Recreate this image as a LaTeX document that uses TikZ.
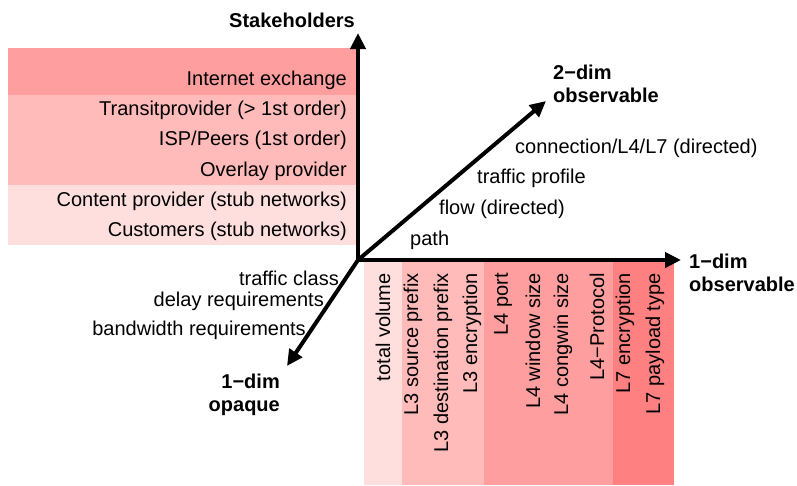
\documentclass[tikz,border=0pt]{standalone}
\usepackage{fontspec}
\setmainfont{Liberation Sans}
\usetikzlibrary{arrows.meta}
\definecolor{bandA}{RGB}{255,222,222}
\definecolor{bandB}{RGB}{255,186,186}
\definecolor{bandC}{RGB}{255,158,158}
\definecolor{bandD}{RGB}{255,128,128}
\begin{document}
\begin{tikzpicture}[x=1pt,y=-1pt,
  every node/.style={inner sep=0pt, font=\fontsize{20}{23}\selectfont},
  axis/.style={line width=4pt, -{Triangle[length=16pt,width=15pt]}},
  axlabel/.style={font=\fontsize{20}{23}\selectfont\bfseries},
  item/.style={anchor=east},
  ditem/.style={anchor=west},
  colitem/.style={rotate=90, anchor=east}]
\useasboundingbox (0,0) rectangle (797,485);

% stakeholder bands
\fill[bandC] (8,48) rectangle (356,95);
\fill[bandB] (8,95) rectangle (356,185);
\fill[bandA] (8,185) rectangle (356,245);

% observable columns
\fill[bandA] (364,262) rectangle (402,485);
\fill[bandB] (402,262) rectangle (484,485);
\fill[bandC] (484,262) rectangle (613,485);
\fill[bandD] (613,262) rectangle (674,485);

% axes
\coordinate (O) at (358,260);
\coordinate (Ob) at (358,262);
\coordinate (up) at (358,33);
\coordinate (right) at (681,260);
\coordinate (ne) at (546,101);
\coordinate (sw) at (287,366);
\draw[axis] (Ob) -- (up);
\draw[axis] (O) -- (right);
\draw[axis] (O) -- (ne);
\draw[axis] (O) -- (sw);

% axis titles
\node[axlabel] (tStake) at (292,20) {Stakeholders};
\node[axlabel, align=left, anchor=west] (t2dim) at (553,84) {2−dim\\observable};
\node[axlabel, align=left, anchor=west] (t1obs) at (689,273) {1−dim\\observable};
\node[axlabel, align=right, anchor=east] (t1opq) at (280,395) {1−dim\\opaque};

% stakeholders
\node[item] (s1) at (347,80) {Internet exchange};
\node[item] (s2) at (347,110) {Transitprovider (> 1st order)};
\node[item] (s3) at (347,140) {ISP/Peers (1st order)};
\node[item] (s4) at (347,171) {Overlay provider};
\node[item] (s5) at (347,201) {Content provider (stub networks)};
\node[item] (s6) at (347,231) {Customers (stub networks)};

% 2-dim observables
\node[ditem] (d1) at (410,240) {path};
\node[ditem] (d2) at (439,209) {flow (directed)};
\node[ditem] (d3) at (477,178) {traffic profile};
\node[ditem] (d4) at (515,148) {connection/L4/L7 (directed)};

% opaque
\node[item] (o1) at (339,278) {traffic class};
\node[item] (o2) at (324,301) {delay requirements};
\node[item] (o3) at (306,330) {bandwidth requirements};

% 1-dim observables
\node[colitem] (c1) at (383,273) {total volume};
\node[colitem] (c2) at (413,273) {L3 source prefix};
\node[colitem] (c3) at (443,273) {L3 destination prefix};
\node[colitem] (c4) at (472,273) {L3 encryption};
\node[colitem] (c5) at (503,273) {L4 port};
\node[colitem] (c6) at (533,273) {L4 window size};
\node[colitem] (c7) at (563,273) {L4 congwin size};
\node[colitem] (c8) at (597,273) {L4−Protocol};
\node[colitem] (c9) at (625,273) {L7 encryption};
\node[colitem] (c10) at (655,273) {L7 payload type};
\end{tikzpicture}
\end{document}
